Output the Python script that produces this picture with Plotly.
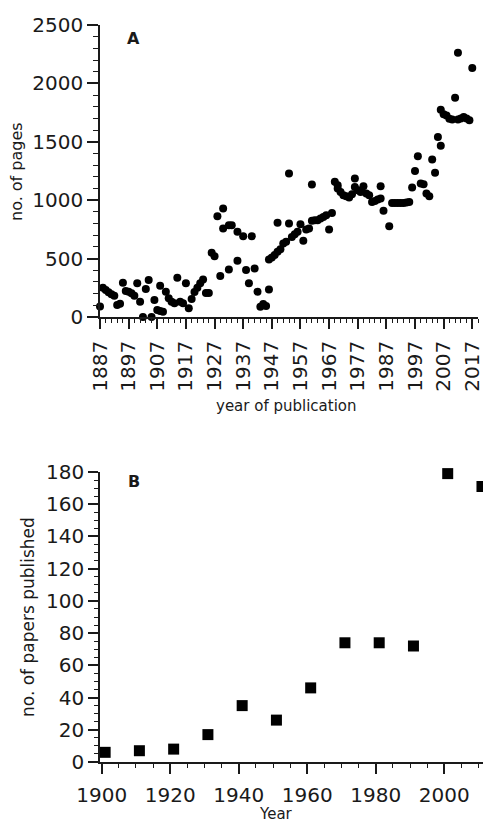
import plotly.graph_objects as go

# ---------------- Panel A data (year of publication, no. of pages) ----------------
years_a = [1887, 1888, 1889, 1890, 1891, 1892, 1893, 1894, 1895, 1896,
           1897, 1898, 1899, 1900, 1901, 1902, 1903, 1904, 1905, 1906,
           1907, 1908, 1908, 1909, 1910, 1911, 1912, 1913, 1914, 1915,
           1916, 1917, 1918, 1919, 1920, 1921, 1922, 1923, 1924, 1925,
           1926, 1927, 1928, 1929, 1930, 1930, 1932, 1932, 1933, 1935,
           1935, 1937, 1938, 1939, 1940, 1941, 1942, 1943, 1944, 1945,
           1946, 1946, 1947, 1948, 1949, 1949, 1950, 1951, 1952, 1953,
           1953, 1954, 1955, 1956, 1957, 1958, 1959, 1960, 1961, 1961,
           1962, 1963, 1964, 1965, 1966, 1967, 1968, 1969, 1970, 1970,
           1971, 1972, 1973, 1974, 1975, 1976, 1976, 1977, 1978, 1979,
           1980, 1981, 1982, 1983, 1984, 1985, 1985, 1986, 1988, 1989,
           1990, 1991, 1992, 1993, 1994, 1995, 1996, 1997, 1998, 1999,
           2000, 2001, 2002, 2003, 2004, 2005, 2006, 2006, 2007, 2008,
           2009, 2010, 2011, 2012, 2012, 2013, 2014, 2015, 2016, 2017]
pages_a = [90, 250, 231, 211, 194, 182, 103, 114, 293, 222,
           216, 203, 182, 288, 131, 0, 239, 316, 0, 145,
           60, 268, 51, 45, 216, 160, 131, 117, 336, 131,
           117, 288, 74, 154, 215, 250, 290, 320, 205, 205,
           550, 520, 863, 350, 929, 758, 407, 786, 786, 481,
           729, 692, 402, 288, 692, 416, 216, 88, 111, 94,
           236, 493, 510, 530, 806, 558, 579, 629, 644, 1228,
           800, 686, 709, 729, 795, 652, 749, 758, 1134, 823,
           829, 829, 843, 857, 872, 749, 891, 1157, 1128, 1100,
           1071, 1043, 1034, 1023, 1051, 1185, 1114, 1085, 1071, 1120,
           1057, 1043, 985, 994, 1005, 1120, 1014, 909, 778, 977,
           977, 977, 977, 977, 980, 985, 1108, 1251, 1376, 1143,
           1137, 1057, 1034, 1348, 1234, 1541, 1467, 1775, 1735, 1726,
           1698, 1690, 1878, 2262, 1690, 1700, 1712, 1700, 1684, 2131]

# ---------------- Panel B data (year, no. of papers published) ----------------
years_b = [1901, 1911, 1921, 1931, 1941, 1951, 1961, 1971, 1981, 1991, 2001, 2011]
papers_b = [6, 7, 8, 17, 35, 26, 46, 74, 74, 72, 179, 171]

W, H = 483, 823
FONT = "DejaVu Sans, Verdana, sans-serif"
INK = "#1a1a1a"

def px_x(p):
    return p / W

def px_y(p):
    return 1 - p / H

fig = go.Figure()
fig.add_trace(go.Scatter(x=years_a, y=pages_a, mode="markers",
                         marker=dict(symbol="circle", size=8, color="black"),
                         cliponaxis=False, xaxis="x", yaxis="y", showlegend=False))
fig.add_trace(go.Scatter(x=years_b, y=papers_b, mode="markers",
                         marker=dict(symbol="square", size=11, color="black"),
                         cliponaxis=False, xaxis="x2", yaxis="y2", showlegend=False))

tickfont = dict(family=FONT, size=20, color=INK)
common = dict(showgrid=False, zeroline=False, showline=True, linecolor=INK,
              linewidth=1.5, ticks="outside", tickcolor=INK, tickwidth=1.5,
              tickfont=tickfont, automargin=False, ticklabeloverflow="allow")

fig.update_layout(
    template="none",
    width=W, height=H, margin=dict(l=0, r=0, t=0, b=0, pad=0),
    paper_bgcolor="white", plot_bgcolor="white",
    xaxis=dict(domain=[px_x(100), px_x(478)], range=[1887, 2019],
               tick0=1887, dtick=10, ticklen=10, tickangle=-90,
               ticklabelstandoff=4,
               minor=dict(tick0=1887, dtick=2, ticklen=4, ticks="outside",
                          tickcolor=INK, tickwidth=1),
               anchor="y", **common),
    yaxis=dict(domain=[px_y(317), px_y(25)], range=[0, 2500],
               tick0=0, dtick=500, ticklen=11,
               minor=dict(dtick=100, ticklen=5, ticks="outside",
                          tickcolor=INK, tickwidth=1),
               anchor="x", **common),
    xaxis2=dict(domain=[px_x(100), 1.0], range=[1899.5, 2011.3],
                tick0=1900, dtick=20, ticklen=10, tickangle=0,
                ticklabelstandoff=4,
                minor=dict(tick0=1900, dtick=5, ticklen=4, ticks="outside",
                           tickcolor=INK, tickwidth=1),
                anchor="y2", **common),
    yaxis2=dict(domain=[px_y(762), px_y(472)], range=[0, 180],
                tick0=0, dtick=20, ticklen=10,
                minor=dict(dtick=5, ticklen=4, ticks="outside",
                           tickcolor=INK, tickwidth=1),
                anchor="x2", **common),
)

ann = [
    dict(text="<b>A</b>", x=px_x(133.5), y=px_y(39)),
    dict(text="<b>B</b>", x=px_x(133.5), y=px_y(481)),
]
for a in ann:
    fig.add_annotation(xref="paper", yref="paper", showarrow=False,
                       font=dict(family=FONT, size=16, color=INK),
                       xanchor="center", yanchor="middle", **a)

titles = [
    dict(text="no. of pages", x=px_x(16), y=px_y(172), textangle=-90, size=16),
    dict(text="year of publication", x=px_x(286), y=px_y(406), textangle=0, size=15),
    dict(text="no. of papers published", x=px_x(28), y=px_y(617), textangle=-90, size=17),
    dict(text="Year", x=px_x(276), y=px_y(814), textangle=0, size=15),
]
for t in titles:
    fig.add_annotation(xref="paper", yref="paper", showarrow=False,
                       text=t["text"], x=t["x"], y=t["y"], textangle=t["textangle"],
                       font=dict(family=FONT, size=t["size"], color=INK),
                       xanchor="center", yanchor="middle")

fig.write_html("out.html",
               config={"displayModeBar": False},
               post_script="document.body.style.margin='0';"
                           "document.body.style.overflow='hidden';")
